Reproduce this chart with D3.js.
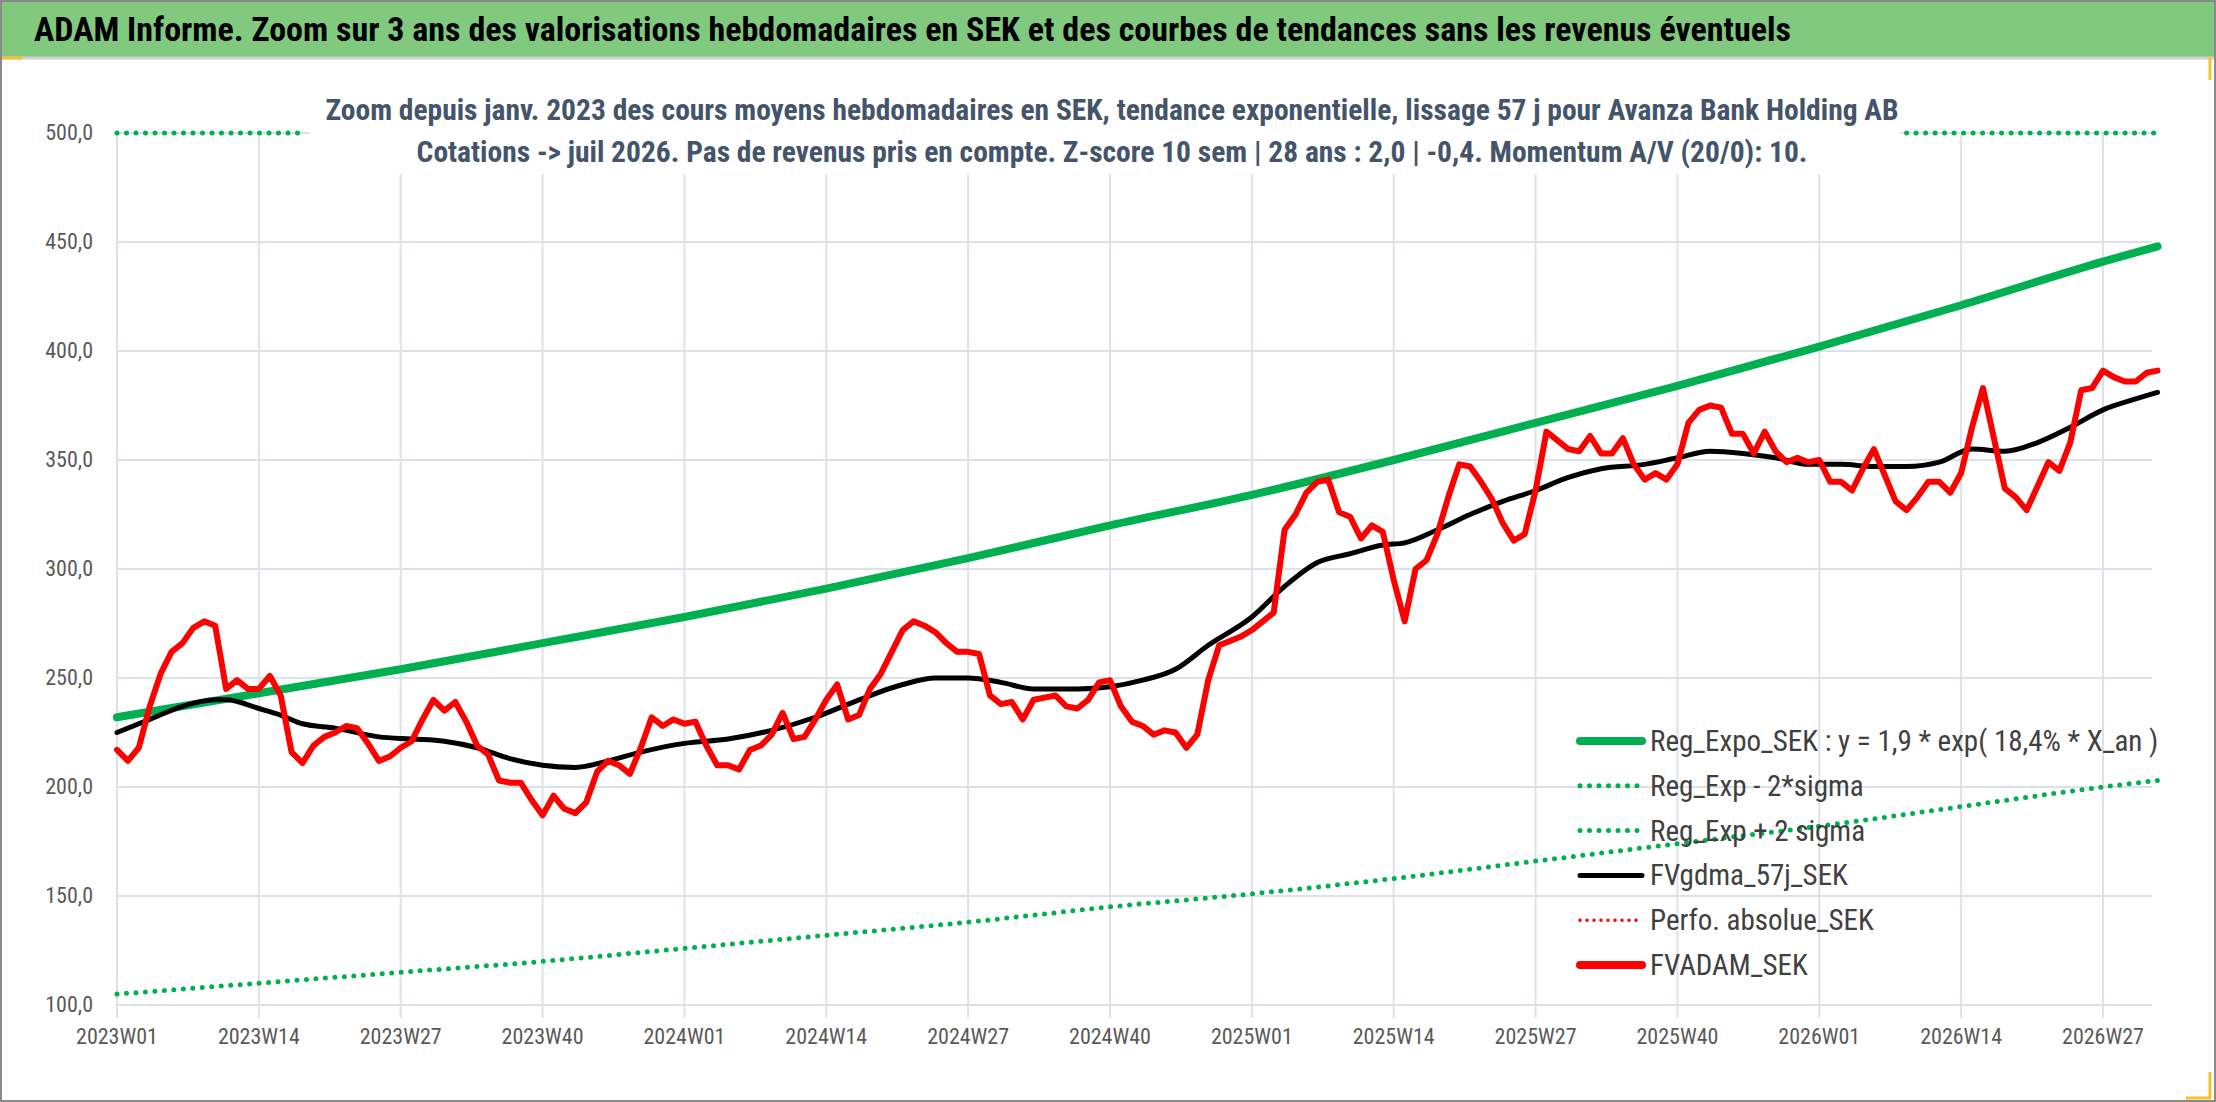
<!DOCTYPE html>
<html>
<head>
<meta charset="utf-8">
<script src="https://cdn.jsdelivr.net/npm/d3@7"></script>
<style>
  body { margin: 0; background: #fff; }
  svg { display: block; font-family: "Liberation Sans Narrow", "Roboto Condensed", "DejaVu Sans Condensed", sans-serif; }
</style>
</head>
<body>
<svg id="chart" width="2216" height="1102"></svg>
<script>
'use strict';

// tick labels every 13 weeks, index of week from 2023W01
const tickWeeks = [0, 13, 26, 39, 52, 65, 78, 91, 104, 117, 130, 143, 156, 169, 182];
const tickLabels = ['2023W01', '2023W14', '2023W27', '2023W40', '2024W01', '2024W14', '2024W27', '2024W40',
  '2025W01', '2025W14', '2025W27', '2025W40', '2026W01', '2026W14', '2026W27'];
const yTicks = [100, 150, 200, 250, 300, 350, 400, 450, 500];

// FVADAM_SEK weekly values
const adam = [217, 212, 218, 237, 252, 262, 266, 273, 276, 274, 245, 249, 245, 245, 251, 242, 216, 211, 219, 223,
  225, 228, 227, 220, 212, 214, 218, 221, 231, 240, 235, 239, 230, 219, 215, 203, 202, 202, 194, 187,
  196, 190, 188, 193, 207, 212, 210, 206, 218, 232, 228, 231, 229, 230, 219, 210, 210, 208, 217, 219,
  224, 234, 222, 223, 231, 240, 247, 231, 233, 245, 252, 262, 272, 276, 274, 271, 266, 262, 262, 261,
  242, 238, 239, 231, 240, 241, 242, 237, 236, 240, 248, 249, 237, 230, 228, 224, 226, 225, 218, 224,
  249, 265, 267, 269, 272, 276, 280, 318, 325, 335, 340, 341, 326, 324, 314, 320, 317, 295, 276, 300,
  304, 316, 333, 348, 347, 340, 332, 321, 313, 316, 336, 363, 359, 355, 354, 361, 353, 353, 360, 348,
  341, 344, 341, 348, 367, 373, 375, 374, 362, 362, 353, 363, 354, 349, 351, 349, 350, 340, 340, 336,
  346, 355, 343, 331, 327, 333, 340, 340, 335, 344, 365, 383, 360, 337, 333, 327, 338, 349, 345, 358,
  382, 383, 391, 388, 386, 386, 390, 391];

// FVgdma_57j_SEK read at these weeks
const maWeeks = [0, 3, 6, 9, 10, 13, 15, 17, 20, 24, 27, 30, 33, 36, 39, 42, 45, 48, 52, 56, 60, 64, 68, 72, 75,
  78, 81, 84, 88, 91, 94, 97, 100, 104, 107, 110, 113, 116, 118, 121, 124, 127, 130, 133, 136, 140, 143,
  146, 149, 152, 155, 158, 161, 164, 167, 170, 173, 176, 179, 182, 185, 187];
const maValues = [225, 231, 237, 240, 240, 236, 233, 229, 227, 223, 222, 221, 218, 213, 210, 209, 212, 216, 220,
  222, 226, 232, 240, 247, 250, 250, 248, 245, 245, 246, 249, 254, 265, 278, 292, 303, 307, 311, 312, 318,
  325, 331, 336, 342, 346, 348, 351, 354, 353, 351, 348, 348, 347, 347, 349, 355, 354, 358, 365, 373, 378, 381];

// regression curves read at the tick weeks and the last week
const regWeeks = [0, 13, 26, 39, 52, 65, 78, 91, 104, 117, 130, 143, 156, 169, 182, 187];
const regExpo = [232, 243, 254, 266, 278, 291, 305, 320, 334, 350, 367, 384, 402, 421, 441, 448];
const regLow = [105, 110, 115, 120, 126, 132, 138, 145, 151, 158, 166, 174, 182, 191, 200, 203];
// upper band is visible only where it sits on the 500 edge
const regHighWeeks = [0, 17, 164, 187];
const regHigh = [500, 500, 500, 500];

const svg = d3.select('#chart');
const W = 2216, H = 1102;

// frame and title band
svg.append('rect').attr('x', 0).attr('y', 0).attr('width', W).attr('height', H).attr('fill', '#fff');
svg.append('rect').attr('x', 0).attr('y', 0).attr('width', W).attr('height', 57).attr('fill', '#80c97f');
svg.append('line').attr('x1', 0).attr('x2', W).attr('y1', 58).attr('y2', 58).attr('stroke', '#d0d0d0').attr('stroke-width', 3);
svg.append('rect').attr('x', 1).attr('y', 1).attr('width', W - 2).attr('height', H - 2)
  .attr('fill', 'none').attr('stroke', '#8a8a8a').attr('stroke-width', 2);
svg.append('line').attr('x1', 2).attr('x2', 22).attr('y1', 58).attr('y2', 58).attr('stroke', '#f2c230').attr('stroke-width', 3);
svg.append('path').attr('d', `M${W - 6},${H - 30}V${H - 4}H${W - 30}`).attr('fill', 'none').attr('stroke', '#f2c230').attr('stroke-width', 3);
svg.append('path').attr('d', `M${W - 6},56V80`).attr('stroke', '#f2c230').attr('stroke-width', 3);

svg.append('text').attr('x', 34).attr('y', 41)
  .attr('font-size', 34).attr('font-weight', 'bold').attr('fill', '#000')
  .text('ADAM Informe. Zoom sur 3 ans des valorisations hebdomadaires en SEK et des courbes de tendances sans les revenus éventuels');

const x = d3.scaleLinear().domain([0, 182]).range([117, 2103]);
const y = d3.scaleLinear().domain([100, 500]).range([1005, 133]);
const plotRight = 2152;

// grid
svg.append('g').selectAll('line').data(yTicks).join('line')
  .attr('x1', 117).attr('x2', plotRight).attr('y1', d => y(d)).attr('y2', d => y(d))
  .attr('stroke', '#dde1e8').attr('stroke-width', 2);
svg.append('g').selectAll('line').data(tickWeeks).join('line')
  .attr('x1', d => x(d)).attr('x2', d => x(d)).attr('y1', 133).attr('y2', 1018)
  .attr('stroke', '#dde1e8').attr('stroke-width', 2);

// subtitle with white backing
svg.append('rect').attr('x', 310).attr('y', 84).attr('width', 1590).attr('height', 90).attr('fill', '#fff');
const sub = svg.append('g').attr('fill', '#44546a').attr('font-size', 29.5).attr('font-weight', 'bold').attr('text-anchor', 'middle');
sub.append('text').attr('x', 1112).attr('y', 120)
  .text('Zoom depuis janv. 2023 des cours moyens hebdomadaires en SEK, tendance exponentielle, lissage 57 j pour Avanza Bank Holding AB');
sub.append('text').attr('x', 1112).attr('y', 162)
  .text('Cotations -> juil 2026. Pas de revenus pris en compte. Z-score 10 sem | 28 ans : 2,0 | -0,4. Momentum A/V (20/0): 10.');

// axes labels
svg.append('g').selectAll('text').data(yTicks).join('text')
  .attr('x', 93).attr('y', d => y(d) + 7).attr('text-anchor', 'end')
  .attr('font-size', 22).attr('fill', '#595959')
  .text(d => d3.format('.1f')(d).replace('.', ','));
svg.append('g').selectAll('text').data(tickWeeks).join('text')
  .attr('x', d => x(d)).attr('y', 1044).attr('text-anchor', 'middle')
  .attr('font-size', 22).attr('fill', '#595959')
  .text((d, i) => tickLabels[i]);

const line = d3.line().x(d => x(d[0])).y(d => y(d[1]));
const smooth = d3.line().x(d => x(d[0])).y(d => y(d[1])).curve(d3.curveMonotoneX);

const dotted = (sel) => sel.attr('fill', 'none').attr('stroke', '#00b050').attr('stroke-width', 5)
  .attr('stroke-linecap', 'round').attr('stroke-dasharray', '0 9.5');

svg.append('path').datum(regLow.map((v, i) => [regWeeks[i], v])).attr('d', smooth).call(dotted);
svg.append('path').datum([[regHighWeeks[0], regHigh[0]], [regHighWeeks[1], regHigh[1]]]).attr('d', line).call(dotted);
svg.append('path').datum([[regHighWeeks[2], regHigh[2]], [regHighWeeks[3], regHigh[3]]]).attr('d', line).call(dotted);

svg.append('path').datum(regExpo.map((v, i) => [regWeeks[i], v])).attr('d', smooth)
  .attr('fill', 'none').attr('stroke', '#00b050').attr('stroke-width', 8).attr('stroke-linecap', 'round');
svg.append('path').datum(maValues.map((v, i) => [maWeeks[i], v])).attr('d', smooth)
  .attr('fill', 'none').attr('stroke', '#000').attr('stroke-width', 5).attr('stroke-linecap', 'round');
svg.append('path').datum(adam.map((v, i) => [i, v])).attr('d', line)
  .attr('fill', 'none').attr('stroke', '#ff0000').attr('stroke-width', 6)
  .attr('stroke-linejoin', 'round').attr('stroke-linecap', 'round');

// legend
const legend = [
  { name: 'Reg_Expo_SEK : y = 1,9 * exp( 18,4% *  X_an )', color: '#00b050', w: 8, dash: null },
  { name: 'Reg_Exp - 2*sigma', color: '#00b050', w: 5, dash: '0 9.5' },
  { name: 'Reg_Exp + 2 sigma', color: '#00b050', w: 5, dash: '0 9.5' },
  { name: 'FVgdma_57j_SEK', color: '#000', w: 5, dash: null },
  { name: 'Perfo. absolue_SEK', color: '#ff0000', w: 3.5, dash: '0 7' },
  { name: 'FVADAM_SEK', color: '#ff0000', w: 8, dash: null }
];
const lg = svg.append('g').selectAll('g').data(legend).join('g')
  .attr('transform', (d, i) => `translate(1580,${741 + i * 44.8})`);
lg.append('line').attr('x1', 0).attr('x2', 62).attr('y1', 0).attr('y2', 0)
  .attr('stroke', d => d.color).attr('stroke-width', d => d.w).attr('stroke-linecap', 'round')
  .attr('stroke-dasharray', d => d.dash);
lg.append('text').attr('x', 70).attr('y', 10).attr('font-size', 29).attr('fill', '#404040').text(d => d.name);
</script>
</body>
</html>
